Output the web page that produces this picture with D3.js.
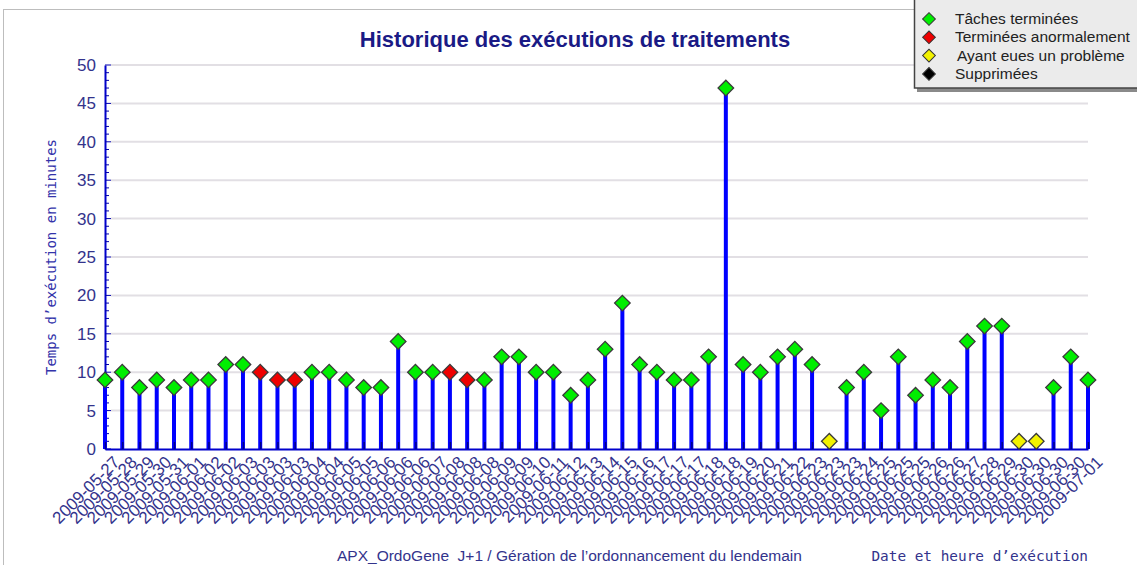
<!DOCTYPE html>
<html>
<head>
<meta charset="utf-8">
<script src="https://cdn.jsdelivr.net/npm/d3@7"></script>
<style>
  body { margin: 0; background: #fff; }
  svg { display: block; }
</style>
</head>
<body>
<div id="chart"></div>
<script>
// run dates, one per execution
var dates = [
  '2009-05-27', '2009-05-28', '2009-05-29', '2009-05-30', '2009-05-31', '2009-06-01',
  '2009-06-02', '2009-06-02', '2009-06-03', '2009-06-03', '2009-06-03', '2009-06-03',
  '2009-06-04', '2009-06-04', '2009-06-05', '2009-06-05', '2009-06-06', '2009-06-06',
  '2009-06-06', '2009-06-07', '2009-06-08', '2009-06-08', '2009-06-08', '2009-06-09',
  '2009-06-09', '2009-06-10', '2009-06-11', '2009-06-12', '2009-06-13', '2009-06-14',
  '2009-06-15', '2009-06-16', '2009-06-17', '2009-06-17', '2009-06-17', '2009-06-18',
  '2009-06-18', '2009-06-19', '2009-06-20', '2009-06-21', '2009-06-22', '2009-06-23',
  '2009-06-23', '2009-06-23', '2009-06-24', '2009-06-25', '2009-06-25', '2009-06-25',
  '2009-06-26', '2009-06-26', '2009-06-27', '2009-06-28', '2009-06-29', '2009-06-30',
  '2009-06-30', '2009-06-30', '2009-06-30', '2009-07-01'
];
// durations in minutes
var minutes = [
  9, 10, 8, 9, 8, 9, 9, 11, 11, 10, 9, 9, 10, 10, 9, 8, 8, 14, 10, 10,
  10, 9, 9, 12, 12, 10, 10, 7, 9, 13, 19, 11, 10, 9, 9, 12, 47, 11, 10, 12,
  13, 11, 1, 8, 10, 5, 12, 7, 9, 8, 14, 16, 16, 1, 1, 8, 12, 9
];
// 0 = ok, 1 = abnormal end, 2 = problem, 3 = deleted
var runStatus = [
  0, 0, 0, 0, 0, 0, 0, 0, 0, 1, 1, 1, 0, 0, 0, 0, 0, 0, 0, 0,
  1, 1, 0, 0, 0, 0, 0, 0, 0, 0, 0, 0, 0, 0, 0, 0, 0, 0, 0, 0,
  0, 0, 2, 0, 0, 0, 0, 0, 0, 0, 0, 0, 0, 2, 2, 0, 0, 0
];
var legendLabels = ['Tâches terminées', 'Terminées anormalement', 'Ayant eues un problème', 'Supprimées'];
var statusColors = ['#00ee00', '#ee0000', '#f2f200', '#000000'];
var yTicks = [0, 5, 10, 15, 20, 25, 30, 35, 40, 45, 50];

var w = 1137, h = 565;
var x0 = 105, x1 = 1088, yTop = 65, yBot = 449;
var textBlue = '#33338c';

var svg = d3.select('#chart').append('svg')
  .attr('width', w)
  .attr('height', h);

// outer frame
svg.append('rect')
  .attr('x', 3.5).attr('y', 9.5)
  .attr('width', w).attr('height', h)
  .attr('fill', 'none')
  .attr('stroke', '#bdbdbd');

var x = d3.scalePoint()
  .domain(d3.range(minutes.length))
  .range([x0, x1]);

var y = d3.scaleLinear()
  .domain([0, 50])
  .range([yBot, yTop]);

// grid
svg.append('g')
  .selectAll('line')
  .data(yTicks.slice(1))
  .join('line')
  .attr('x1', x0 + 6).attr('x2', x1)
  .attr('y1', d => y(d)).attr('y2', d => y(d))
  .attr('stroke', '#e2dfe4')
  .attr('stroke-width', 2);

// title
svg.append('text')
  .attr('x', 575).attr('y', 47)
  .attr('text-anchor', 'middle')
  .attr('font-family', 'Liberation Sans, Arial, sans-serif')
  .attr('font-weight', 'bold')
  .attr('font-size', 22)
  .attr('fill', '#1a1a85')
  .text('Historique des exécutions de traitements');

// y axis
var yAxis = svg.append('g')
  .attr('transform', 'translate(' + x0 + ',0)')
  .call(d3.axisLeft(y).tickValues(yTicks).tickSize(0).tickPadding(9));
yAxis.select('.domain').attr('stroke', '#0000cc').attr('stroke-width', 2);
yAxis.selectAll('text')
  .attr('font-family', 'Liberation Sans, Arial, sans-serif')
  .attr('font-size', 17)
  .attr('fill', textBlue);

// minor ticks inside the y axis
svg.append('g')
  .selectAll('line')
  .data(d3.range(0, 51))
  .join('line')
  .attr('x1', x0).attr('x2', d => x0 + (d % 5 === 0 ? 6 : 4))
  .attr('y1', d => y(d)).attr('y2', d => y(d))
  .attr('stroke', '#0000aa')
  .attr('stroke-width', 1);

svg.append('text')
  .attr('transform', 'translate(56,' + ((yTop + yBot) / 2) + ') rotate(-90)')
  .attr('text-anchor', 'middle')
  .attr('font-family', 'DejaVu Sans Mono, monospace')
  .attr('font-size', 14)
  .attr('fill', '#3333aa')
  .text('Temps d\u2019exécution en minutes');

// stems
svg.append('g')
  .selectAll('line')
  .data(minutes)
  .join('line')
  .attr('x1', (d, i) => x(i)).attr('x2', (d, i) => x(i))
  .attr('y1', yBot).attr('y2', d => y(d))
  .attr('stroke', '#0000ff')
  .attr('stroke-width', 4);

// x axis
var xAxis = svg.append('g')
  .attr('transform', 'translate(0,' + yBot + ')')
  .call(d3.axisBottom(x).tickSize(-7).tickSizeOuter(0).tickFormat(i => dates[i]).tickPadding(10));
xAxis.select('.domain').attr('stroke', '#0000cc').attr('stroke-width', 2);
xAxis.selectAll('.tick line').attr('stroke', '#000088').attr('stroke-width', 1.5);
xAxis.selectAll('text')
  .attr('font-family', 'Liberation Sans, Arial, sans-serif')
  .attr('font-size', 17)
  .attr('fill', textBlue)
  .attr('text-anchor', 'end')
  .attr('dy', '0.35em')
  .attr('transform', 'translate(4,3) rotate(-45)');

// markers
var diamond = d3.symbol(d3.symbolSquare, 121);
svg.append('g')
  .selectAll('path')
  .data(minutes)
  .join('path')
  .attr('d', diamond)
  .attr('transform', (d, i) => 'translate(' + x(i) + ',' + y(d) + ') rotate(45)')
  .attr('fill', (d, i) => statusColors[runStatus[i]])
  .attr('stroke', '#3a3a3a')
  .attr('stroke-width', 1.3);

// footer
svg.append('text')
  .attr('x', 337).attr('y', 561)
  .attr('xml:space', 'preserve')
  .attr('font-family', 'Liberation Sans, Arial, sans-serif')
  .attr('font-size', 15.5)
  .attr('fill', textBlue)
  .text('APX_OrdoGene\u00a0 J+1 / Gération de l\u2019ordonnancement du lendemain');

svg.append('text')
  .attr('x', 1088).attr('y', 561)
  .attr('text-anchor', 'end')
  .attr('font-family', 'DejaVu Sans Mono, monospace')
  .attr('font-size', 14.4)
  .attr('fill', textBlue)
  .text('Date et heure d\u2019exécution');

// legend box
var lg = svg.append('g');
lg.append('rect')
  .attr('x', 917).attr('y', 3)
  .attr('width', 240).attr('height', 89)
  .attr('fill', '#8a8a8a');
lg.append('rect')
  .attr('x', 914.5).attr('y', -1)
  .attr('width', 240).attr('height', 89)
  .attr('fill', '#ebebeb')
  .attr('stroke', '#444')
  .attr('stroke-width', 1.5);

var items = lg.selectAll('g.item')
  .data(legendLabels)
  .join('g')
  .attr('class', 'item')
  .attr('transform', (d, i) => 'translate(929,' + (19 + i * 18.3) + ')');
items.append('path')
  .attr('d', d3.symbol(d3.symbolSquare, 81))
  .attr('transform', 'rotate(45)')
  .attr('fill', (d, i) => statusColors[i])
  .attr('stroke', '#333')
  .attr('stroke-width', 1);
items.append('text')
  .attr('x', (d, i) => i === 2 ? 28 : 26)
  .attr('y', 5)
  .attr('font-family', 'Liberation Sans, Arial, sans-serif')
  .attr('font-size', 15.5)
  .attr('fill', '#222')
  .text(d => d);
</script>
</body>
</html>
